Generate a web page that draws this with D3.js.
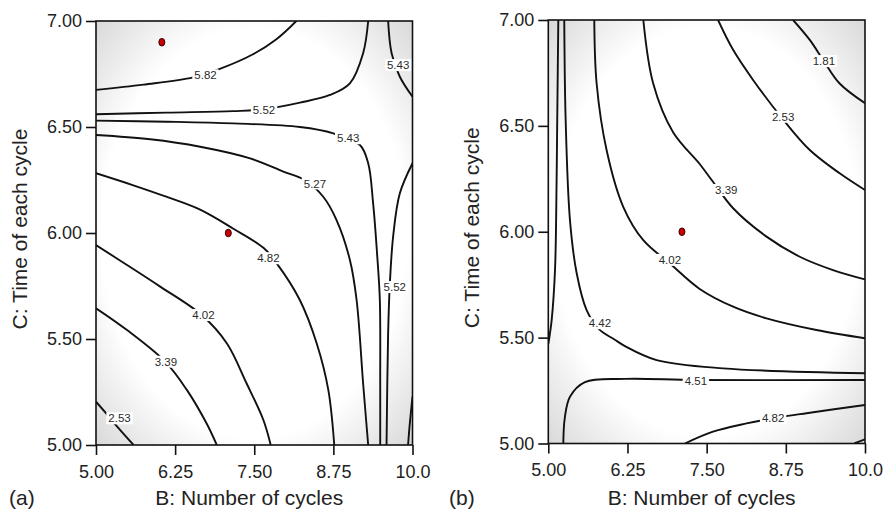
<!DOCTYPE html>
<html>
<head>
<meta charset="utf-8">
<script src="https://cdn.jsdelivr.net/npm/d3@7"></script>
<style>
  body { margin: 0; background: #fff; }
  text { font-family: "Liberation Sans", Arial, Helvetica, sans-serif; }
</style>
</head>
<body>
<script>
// axis ticks and titles
var xTickVals = [5, 6.25, 7.5, 8.75, 10];
var xTickText = ['5.00', '6.25', '7.50', '8.75', '10.0'];
var yTickVals = [5, 5.5, 6, 6.5, 7];
var yTickText = ['5.00', '5.50', '6.00', '6.50', '7.00'];
var xTitle = 'B: Number of cycles';
var yTitle = 'C: Time of each cycle';

// contour lines: level, [B, C] points, label spot
var contoursA = [
    { level: '5.82', at: [6.73, 6.744],
      pts: [[5.0, 6.675], [5.75, 6.70], [6.535, 6.734], [6.956, 6.774], [7.48, 6.843], [7.85, 6.914], [8.165, 7.0]] },
    { level: '5.52', at: [7.655, 6.58],
      pts: [[5.0, 6.560], [6.115, 6.568], [7.166, 6.575], [7.64, 6.583], [8.222, 6.615], [8.695, 6.651], [9.011, 6.706], [9.22, 6.848], [9.30, 7.0]] },
    { level: '5.43', at: [9.773, 6.792],
      pts: [[9.615, 7.0], [9.67, 6.848], [9.80, 6.737], [10.0, 6.643]] },
    { level: '5.43', at: [8.984, 6.447],
      pts: [[5.0, 6.530], [6.12, 6.525], [7.17, 6.517], [8.222, 6.50], [8.75, 6.47], [9.17, 6.415], [9.30, 6.329], [9.378, 6.14], [9.44, 5.904], [9.484, 5.684], [9.49, 5.3], [9.49, 5.0]] },
    { level: '5.27', at: [8.459, 6.234],
      pts: [[5.0, 6.462], [5.856, 6.442], [6.645, 6.407], [7.434, 6.352], [7.96, 6.29], [8.3, 6.25], [8.59, 6.171], [8.80, 6.061], [9.011, 5.873], [9.117, 5.684], [9.22, 5.29], [9.30, 5.0]] },
    { level: '4.82', at: [7.723, 5.881],
      pts: [[5.0, 6.282], [5.59, 6.225], [6.12, 6.17], [6.645, 6.11], [7.17, 6.02], [7.645, 5.93], [7.855, 5.857], [8.22, 5.684], [8.486, 5.48], [8.67, 5.26], [8.764, 5.0]] },
    { level: '5.52', at: [9.72, 5.745],
      pts: [[10.0, 6.329], [9.80, 6.187], [9.694, 5.983], [9.64, 5.747], [9.615, 5.527], [9.59, 5.0]] },
    { level: null, at: null,
      pts: [[9.93, 5.0], [9.957, 5.10], [10.0, 5.228]] },
    { level: '4.02', at: [6.697, 5.613],
      pts: [[5.0, 5.943], [5.49, 5.849], [6.014, 5.747], [6.67, 5.613], [7.066, 5.48], [7.38, 5.29], [7.644, 5.118], [7.76, 5.0]] },
    { level: '3.39', at: [6.104, 5.393],
      pts: [[5.0, 5.645], [5.49, 5.542], [6.093, 5.393], [6.435, 5.26], [6.75, 5.10], [6.908, 5.0]] },
    { level: '2.53', at: [5.372, 5.126],
      pts: [[5.0, 5.204], [5.16, 5.149], [5.29, 5.102], [5.593, 5.0]] }
];

var contoursB = [
    { level: '1.81', at: [9.35, 6.806],
      pts: [[8.865, 7.0], [9.128, 6.906], [9.34, 6.811], [9.60, 6.70], [10.0, 6.607]] },
    { level: '2.53', at: [8.707, 6.543],
      pts: [[7.68, 7.0], [7.92, 6.858], [8.233, 6.717], [8.707, 6.53], [9.128, 6.386], [9.6, 6.276], [10.0, 6.197]] },
    { level: '3.39', at: [7.81, 6.197],
      pts: [[6.50, 7.0], [6.656, 6.70], [6.97, 6.47], [7.39, 6.32], [7.60, 6.236], [7.918, 6.111], [8.445, 5.977], [8.97, 5.882], [9.495, 5.819], [10.0, 5.775]] },
    { level: '4.02', at: [6.92, 5.867],
      pts: [[5.726, 7.0], [5.763, 6.70], [5.92, 6.386], [6.183, 6.118], [6.50, 5.96], [6.92, 5.85], [7.39, 5.73], [7.918, 5.646], [8.445, 5.591], [9.233, 5.536], [10.0, 5.497]] },
    { level: '4.42', at: [5.815, 5.568],
      pts: [[5.252, 7.0], [5.274, 6.528], [5.342, 6.055], [5.448, 5.804], [5.605, 5.63], [5.80, 5.54], [6.05, 5.49], [6.21, 5.46], [6.71, 5.394], [7.76, 5.355], [10.0, 5.332]] },
    { level: null, at: null,
      pts: [[5.158, 7.0], [5.14, 6.5], [5.13, 6.213], [5.106, 5.82], [5.053, 5.583], [5.0, 5.47]] },
    { level: '4.51', at: [7.33, 5.297],
      pts: [[5.237, 5.0], [5.26, 5.12], [5.342, 5.221], [5.579, 5.29], [6.21, 5.305], [7.33, 5.30], [10.0, 5.30]] },
    { level: '4.82', at: [8.549, 5.119],
      pts: [[7.156, 5.0], [7.60, 5.056], [8.13, 5.095], [8.55, 5.119], [9.076, 5.143], [10.0, 5.182]] },
    { level: null, at: null,
      pts: [[9.83, 5.0], [10.0, 5.02]] }
];

// design points (red dots)
var runsA = [[6.04, 6.90], [7.09, 6.00]];
var runsB = [[7.11, 6.00]];

var svg = d3.select('body')
    .append('svg')
    .attr('width', 884)
    .attr('height', 509);

var defs = svg.append('defs');

// soft grey vignette in the plot corners
var grad = defs.append('radialGradient')
    .attr('id', 'bg')
    .attr('cx', '50%')
    .attr('cy', '50%')
    .attr('r', '71%');
grad.append('stop').attr('offset', '0%').attr('stop-color', '#ffffff');
grad.append('stop').attr('offset', '68%').attr('stop-color', '#ffffff');
grad.append('stop').attr('offset', '100%').attr('stop-color', '#d8d8d8');

function panel(p) {
    var g = svg.append('g')
        .attr('transform', 'translate(' + p.left + ',' + p.top + ')');

    var x = d3.scaleLinear().domain([5, 10]).range([0, p.w]);
    var y = d3.scaleLinear().domain([5, 7]).range([p.h, 0]);

    defs.append('clipPath')
        .attr('id', 'clip' + p.id)
        .append('rect')
        .attr('width', p.w)
        .attr('height', p.h);

    g.append('rect')
        .attr('width', p.w)
        .attr('height', p.h)
        .attr('fill', 'url(#bg)');

    var line = d3.line()
        .x(function (d) { return x(d[0]); })
        .y(function (d) { return y(d[1]); })
        .curve(d3.curveCatmullRom.alpha(0.5));

    var cg = g.append('g').attr('clip-path', 'url(#clip' + p.id + ')');

    cg.selectAll('path.contour').data(p.contours).enter()
        .append('path')
        .attr('class', 'contour')
        .attr('d', function (d) { return line(d.pts); })
        .attr('fill', 'none')
        .attr('stroke', '#111')
        .attr('stroke-width', 1.9);

    // contour labels sit on a white box that breaks the line
    var lab = cg.selectAll('g.lab')
        .data(p.contours.filter(function (d) { return d.at; }))
        .enter()
        .append('g')
        .attr('class', 'lab')
        .attr('transform', function (d) {
            return 'translate(' + x(d.at[0]) + ',' + y(d.at[1]) + ')';
        });
    var rects = lab.append('rect').attr('fill', '#fff');
    lab.append('text')
        .attr('text-anchor', 'middle')
        .attr('dy', '0.36em')
        .attr('font-size', 11.5)
        .attr('fill', '#2a2a2a')
        .text(function (d) { return d.level; });
    rects.each(function () {
        var t = this.parentNode.querySelector('text').getBBox();
        d3.select(this)
            .attr('x', t.x - 2)
            .attr('y', -6)
            .attr('width', t.width + 4)
            .attr('height', 12);
    });

    // red design points
    g.selectAll('ellipse.run').data(p.runs).enter()
        .append('ellipse')
        .attr('class', 'run')
        .attr('cx', function (d) { return x(d[0]); })
        .attr('cy', function (d) { return y(d[1]); })
        .attr('rx', 3)
        .attr('ry', 3.8)
        .attr('fill', '#c80000')
        .attr('stroke', '#3a0000')
        .attr('stroke-width', 1);

    // frame
    g.append('rect')
        .attr('width', p.w)
        .attr('height', p.h)
        .attr('fill', 'none')
        .attr('stroke', '#111')
        .attr('stroke-width', 1.6);

    // axes
    var xa = g.append('g')
        .attr('transform', 'translate(0,' + p.h + ')')
        .call(d3.axisBottom(x)
            .tickValues(xTickVals)
            .tickFormat(function (d, i) { return xTickText[i]; })
            .tickSizeInner(10)
            .tickSizeOuter(0)
            .tickPadding(10));
    var ya = g.append('g')
        .call(d3.axisLeft(y)
            .tickValues(yTickVals)
            .tickFormat(function (d, i) { return yTickText[i]; })
            .tickSizeInner(10)
            .tickSizeOuter(0)
            .tickPadding(4));
    [xa, ya].forEach(function (a) {
        a.select('.domain').remove();
        a.attr('font-family', null).attr('font-size', 18);
        a.selectAll('.tick line').attr('stroke', '#111').attr('stroke-width', 1.6);
        a.selectAll('.tick text').attr('fill', '#222');
    });

    // titles
    svg.append('text')
        .attr('x', p.left + p.w / 2 - 5)
        .attr('y', 505)
        .attr('text-anchor', 'middle')
        .attr('font-size', 21)
        .attr('fill', '#222')
        .text(xTitle);

    svg.append('text')
        .attr('transform', 'translate(' + (p.left - 69) + ',' + (p.top + p.h / 2 - 4) + ') rotate(-90)')
        .attr('text-anchor', 'middle')
        .attr('font-size', 21)
        .attr('fill', '#222')
        .text(yTitle);

    svg.append('text')
        .attr('x', p.tagX)
        .attr('y', 505)
        .attr('font-size', 21)
        .attr('fill', '#222')
        .text(p.tag);
}

panel({ id: 'a', left: 96, top: 21, w: 316.5, h: 424, contours: contoursA, runs: runsA, tag: '(a)', tagX: 9 });
panel({ id: 'b', left: 548.3, top: 20, w: 316.7, h: 423.5, contours: contoursB, runs: runsB, tag: '(b)', tagX: 449 });
</script>
</body>
</html>
